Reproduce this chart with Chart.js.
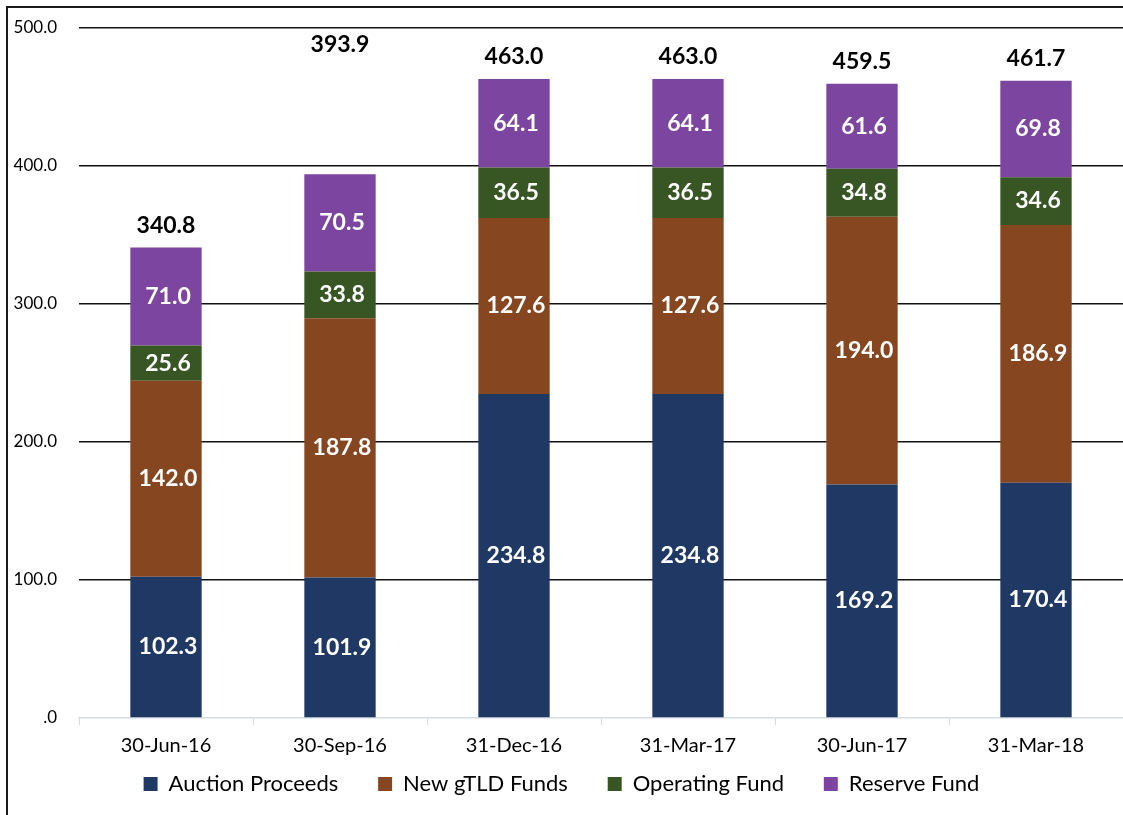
<!DOCTYPE html>
<html>
<head>
<meta charset="utf-8">
<script src="https://cdn.jsdelivr.net/npm/chart.js@4.4.1/dist/chart.umd.min.js"></script>
<style>
	html, body { margin: 0; padding: 0; background: #fff; }
	#wrap { width: 1123px; height: 815px; position: relative; }
</style>
</head>
<body>
<div id="wrap"><canvas id="fund-chart"></canvas></div>
<script>
// values
var dates = ['30-Jun-16', '30-Sep-16', '31-Dec-16', '31-Mar-17', '30-Jun-17', '31-Mar-18'];
var auctionProceeds = [102.3, 101.9, 234.8, 234.8, 169.2, 170.4];
var newGtldFunds = [142.0, 187.8, 127.6, 127.6, 194.0, 186.9];
var operatingFund = [25.6, 33.8, 36.5, 36.5, 34.8, 34.6];
var reserveFund = [71.0, 70.5, 64.1, 64.1, 61.6, 69.8];
var totals = [340.8, 393.9, 463.0, 463.0, 459.5, 461.7];
var yTicks = [0, 100, 200, 300, 400, 500];

var fontFamily = "Lato, 'Open Sans', sans-serif";

// white numbers inside each segment + black totals over each stack
var labelPlugin = {
	id: 'segmentLabels',
	afterDatasetsDraw: function (chart) {
		var ctx = chart.ctx;
		ctx.save();
		ctx.textAlign = 'center';
		ctx.textBaseline = 'middle';
		ctx.font = 'bold 23px ' + fontFamily;
		ctx.fillStyle = '#ffffff';
		chart.data.datasets.forEach(function (ds, i) {
			var meta = chart.getDatasetMeta(i);
			meta.data.forEach(function (bar, j) {
				var mid = (bar.y + bar.base) / 2;
				ctx.fillText(ds.data[j].toFixed(1), bar.x + 2, mid);
			});
		});
		var last = chart.getDatasetMeta(chart.data.datasets.length - 1);
		ctx.fillStyle = '#000000';
		last.data.forEach(function (bar, j) {
			var y = bar.y - 22;
			if (j === 1) y = chart.scales.y.getPixelForValue(487.7); // excel left this one up high
			ctx.fillText(totals[j].toFixed(1), bar.x, y);
		});
		ctx.restore();
	}
};

// frame line seen at the top and left of the picture
var framePlugin = {
	id: 'frame',
	beforeDraw: function (chart) {
		var ctx = chart.ctx;
		ctx.save();
		ctx.fillStyle = '#fff';
		ctx.fillRect(0, 0, chart.width, chart.height);
		ctx.strokeStyle = '#1a1a1a';
		ctx.lineWidth = 2;
		ctx.beginPath();
		ctx.moveTo(7, chart.height + 2);
		ctx.lineTo(7, 7);
		ctx.lineTo(chart.width + 2, 7);
		ctx.stroke();
		ctx.restore();
	}
};

var data = {
	labels: dates,
	datasets: [
		{ label: 'Auction Proceeds', data: auctionProceeds, backgroundColor: '#203864' },
		{ label: 'New gTLD Funds', data: newGtldFunds, backgroundColor: '#854620' },
		{ label: 'Operating Fund', data: operatingFund, backgroundColor: '#385623' },
		{ label: 'Reserve Fund', data: reserveFund, backgroundColor: '#7b45a0' }
	]
};

var options = {
	responsive: false,
	animation: false,
	layout: { padding: { top: 28, left: 0, right: 0, bottom: 10 } },
	datasets: {
		bar: { categoryPercentage: 1, barPercentage: 0.41, borderWidth: 0 }
	},
	plugins: {
		tooltip: { enabled: false },
		legend: {
			position: 'bottom',
			labels: {
				color: '#000',
				font: { family: fontFamily, size: 22 },
				boxWidth: 14,
				boxHeight: 14,
				padding: 6,
				generateLabels: function (chart) {
					var items = Chart.defaults.plugins.legend.labels.generateLabels(chart);
					items.forEach(function (item, i) {
						// a bit more room between entries, like the original
						if (i < items.length - 1) item.text += '\u00a0\u00a0\u00a0\u00a0\u00a0\u00a0';
					});
					return items;
				}
			}
		}
	},
	scales: {
		x: {
			stacked: true,
			grid: { drawOnChartArea: false, drawTicks: true, tickLength: 7, color: '#d9d9d9', offset: true },
			border: { color: '#d6dce5', width: 1.5 },
			ticks: { color: '#000', font: { family: fontFamily, size: 20 }, padding: 9, maxRotation: 0 }
		},
		y: {
			stacked: true,
			min: 0,
			max: 500,
			afterFit: function (scale) { scale.width = 79; },
			afterBuildTicks: function (scale) {
				scale.ticks = yTicks.map(function (v) { return { value: v }; });
			},
			grid: {
				// invisible tick marks keep the labels away from the plot
				drawTicks: true,
				tickLength: 22,
				tickColor: 'rgba(0,0,0,0)',
				lineWidth: 1.4,
				color: function (c) { return c.tick && c.tick.value === 0 ? 'rgba(0,0,0,0)' : '#111'; }
			},
			border: { display: false },
			ticks: {
				color: '#000',
				padding: 0,
				font: { family: fontFamily, size: 17 },
				callback: function (v) { return v === 0 ? '.0' : v.toFixed(1); }
			}
		}
	}
};

var canvas = document.getElementById('fund-chart');
canvas.width = 1123;
canvas.height = 815;
var fundChart = new Chart(canvas, {
	type: 'bar',
	data: data,
	options: options,
	plugins: [framePlugin, labelPlugin]
});
</script>
</body>
</html>
